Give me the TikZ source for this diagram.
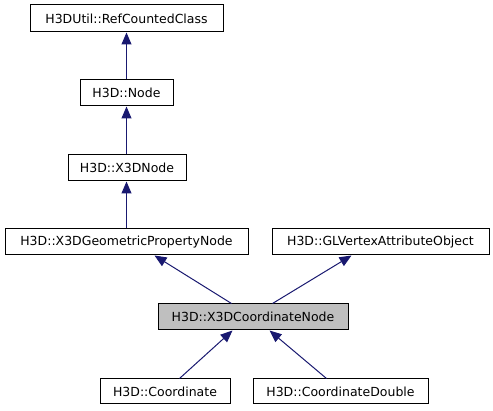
\documentclass[tikz,border=0pt]{standalone}
\usepackage{fontspec}
\setmainfont{DejaVu Sans}
\usetikzlibrary{arrows.meta,calc}
\definecolor{edge}{HTML}{191970}
\definecolor{hl}{HTML}{BFBFBF}
\tikzset{
  cls/.style={draw=black, fill=white, line width=1pt, inner sep=0pt, font=\fontsize{12.5}{14}\selectfont},
  inh/.style={draw=edge, line width=1pt, -{Triangle[length=12pt,width=10pt]}, color=edge},
}
\begin{document}
\begin{tikzpicture}[x=1pt,y=-1pt]
\useasboundingbox (0,0) rectangle (493,411);
\node[cls, minimum width=193pt, minimum height=27pt] (ref) at (126.5,18.5) {H3DUtil::RefCountedClass};
\node[cls, minimum width=93pt, minimum height=26pt] (node) at (126.5,93) {H3D::Node};
\node[cls, minimum width=118pt, minimum height=26pt] (x3d) at (127,168) {H3D::X3DNode};
\node[cls, minimum width=243pt, minimum height=26pt] (geo) at (126.5,242) {H3D::X3DGeometricPropertyNode};
\node[cls, minimum width=217pt, minimum height=26pt] (gl) at (380.5,242) {H3D::GLVertexAttributeObject};
\node[cls, fill=hl, minimum width=190pt, minimum height=26pt] (coord) at (253,317) {H3D::X3DCoordinateNode};
\node[cls, minimum width=130pt, minimum height=25pt] (c) at (165,391.5) {H3D::Coordinate};
\node[cls, minimum width=175pt, minimum height=25pt] (cd) at (340.5,391.5) {H3D::CoordinateDouble};
\draw[inh] (node.north) -- (ref.south);
\draw[inh] (x3d.north-|node.north) -- (node.south);
\draw[inh] (geo.north-|node.north) -- (x3d.south-|node.north);
\draw[inh] ($(coord.north west)+(74,0)$) -- ($(geo.south west)+(150,0)$);
\draw[inh] ($(coord.north west)+(115,0)$) -- ($(gl.south west)+(80,0)$);
\draw[inh] ($(c.north west)+(80,0)$) -- ($(coord.south west)+(75,0)$);
\draw[inh] ($(cd.north west)+(74,0)$) -- ($(coord.south west)+(112,0)$);
\end{tikzpicture}
\end{document}
